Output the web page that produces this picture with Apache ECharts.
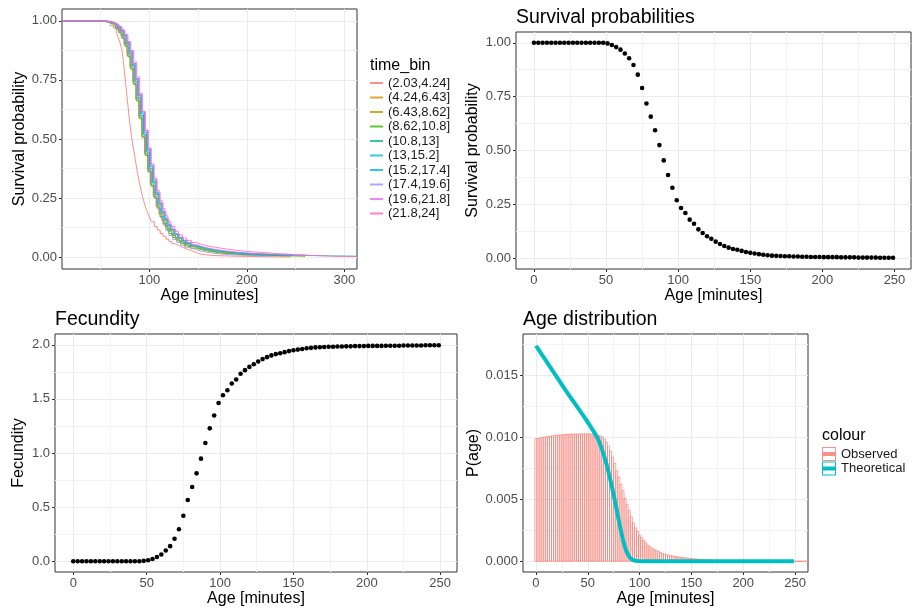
<!DOCTYPE html>
<html><head><meta charset="utf-8">
<script src="https://cdn.jsdelivr.net/npm/echarts@6/dist/echarts.min.js"></script>
<style>html,body{margin:0;padding:0;background:#fff}#c{width:919px;height:609px}</style>
</head><body><div id="c"></div>
<script>
// ---------------- DATA ----------------
const binLabels = ['(2.03,4.24]','(4.24,6.43]','(6.43,8.62]','(8.62,10.8]','(10.8,13]','(13,15.2]','(15.2,17.4]','(17.4,19.6]','(19.6,21.8]','(21.8,24]'];
const binColors = ['rgba(248,118,109,0.8)','rgba(216,144,0,0.8)','rgba(163,165,0,0.8)','rgba(57,182,0,0.8)','rgba(0,191,125,0.8)','rgba(0,191,196,0.8)','rgba(0,176,246,0.8)','rgba(149,144,255,0.8)','rgba(231,107,243,0.8)','rgba(255,98,188,0.8)'];

const kmBin1 = [[10,1],[50,1],[54,0.995],[57,0.99],[60,0.98],[63,0.97],[66,0.95],[68,0.93],[70,0.905],[72,0.87],[74,0.8],[76,0.72],[78,0.64],[80,0.56],[82,0.5],[84,0.45],[86,0.4],[88,0.35],[90,0.31],[92,0.27],[94,0.24],[96,0.21],[98,0.19],[100,0.17],[102,0.15],[105,0.13],[108,0.115],[111,0.1],[114,0.088],[117,0.076],[120,0.066],[123,0.057],[126,0.05],[130,0.042],[134,0.035],[138,0.028],[143,0.02],[148,0.012],[153,0.007],[165,0.004],[190,0.002],[220,0.001],[245,0.001]];
const kmBin2 = [[10,1],[44,1],[50,0.998],[55,0.995],[58,0.99],[62,0.983],[65,0.972],[68,0.958],[71,0.937],[74,0.905],[77,0.862],[80,0.81],[83,0.745],[86,0.672],[89,0.6],[92,0.52],[95,0.445],[98,0.372],[101,0.315],[104,0.262],[107,0.22],[110,0.186],[113,0.156],[116,0.132],[119,0.112],[123,0.092],[127,0.077],[131,0.065],[135,0.055],[140,0.046],[145,0.038],[151,0.031],[158,0.025],[166,0.02],[175,0.016],[185,0.012],[197,0.009],[211,0.007],[230,0.005]];
const kmBin3 = [[10,1],[46,1],[51,0.997],[55,0.993],[59,0.988],[62,0.98],[65,0.968],[68,0.952],[71,0.93],[74,0.897],[77,0.852],[80,0.8],[83,0.735],[86,0.665],[89,0.59],[92,0.51],[95,0.435],[98,0.365],[101,0.305],[104,0.257],[107,0.215],[110,0.182],[113,0.153],[116,0.13],[119,0.11],[123,0.09],[127,0.076],[131,0.064],[136,0.053],[141,0.044],[147,0.036],[153,0.029],[160,0.023],[168,0.018],[178,0.014],[190,0.011],[205,0.008],[222,0.006],[240,0.004]];
const kmBin4 = [[10,1],[47,1],[52,0.996],[56,0.992],[60,0.986],[63,0.978],[66,0.966],[69,0.948],[72,0.925],[75,0.892],[78,0.848],[81,0.795],[84,0.73],[87,0.66],[90,0.585],[93,0.505],[96,0.43],[99,0.36],[102,0.3],[105,0.25],[108,0.208],[111,0.172],[114,0.143],[117,0.12],[120,0.1],[124,0.083],[128,0.069],[132,0.057],[137,0.047],[142,0.038],[148,0.03],[155,0.024],[163,0.018],[172,0.014],[183,0.011],[196,0.008],[212,0.006],[235,0.004],[260,0.003]];
const kmBin5 = [[10,1],[48,1],[53,0.998],[57,0.995],[61,0.99],[64,0.984],[67,0.974],[70,0.958],[73,0.937],[76,0.905],[79,0.864],[82,0.81],[85,0.745],[88,0.675],[91,0.6],[94,0.52],[97,0.445],[100,0.375],[103,0.315],[106,0.265],[109,0.222],[112,0.188],[115,0.158],[118,0.134],[121,0.114],[125,0.095],[129,0.081],[133,0.07],[137,0.06],[142,0.05],[147,0.042],[153,0.035],[160,0.029],[168,0.024],[177,0.02],[187,0.016],[199,0.013],[213,0.01],[229,0.008],[247,0.006]];
const kmBin6 = [[10,1],[49,1],[54,0.998],[58,0.995],[62,0.99],[65,0.985],[68,0.976],[71,0.962],[74,0.942],[77,0.912],[80,0.872],[83,0.82],[86,0.755],[89,0.685],[92,0.61],[95,0.53],[98,0.455],[101,0.385],[104,0.322],[107,0.27],[110,0.226],[113,0.19],[116,0.16],[119,0.136],[122,0.117],[126,0.097],[130,0.083],[134,0.071],[138,0.061],[143,0.051],[148,0.043],[154,0.036],[161,0.03],[169,0.025],[178,0.02],[188,0.016],[200,0.013],[214,0.01],[230,0.008],[248,0.006],[280,0.004],[313,0.004]];
const kmBin7 = [[10,1],[48,1],[53,0.997],[57,0.994],[61,0.989],[64,0.983],[67,0.973],[70,0.958],[73,0.938],[76,0.908],[79,0.868],[82,0.815],[85,0.752],[88,0.682],[91,0.607],[94,0.527],[97,0.452],[100,0.382],[103,0.322],[106,0.272],[109,0.23],[112,0.195],[115,0.165],[118,0.14],[121,0.12],[125,0.1],[129,0.082],[133,0.068],[137,0.058],[142,0.048],[147,0.04],[153,0.033],[160,0.027],[168,0.022],[177,0.018],[187,0.015],[199,0.012],[213,0.01],[228,0.008],[248,0.007]];
const kmBin8 = [[10,1],[47,1],[52,0.997],[56,0.994],[60,0.988],[63,0.981],[66,0.97],[69,0.954],[72,0.932],[75,0.9],[78,0.858],[81,0.806],[84,0.742],[87,0.672],[90,0.597],[93,0.517],[96,0.44],[99,0.368],[102,0.305],[105,0.25],[108,0.205],[111,0.167],[114,0.137],[117,0.112],[120,0.092],[124,0.075],[128,0.062],[132,0.051],[136,0.042],[141,0.034],[146,0.027],[152,0.021],[159,0.016],[167,0.012],[177,0.009],[190,0.007],[205,0.005],[225,0.003]];
const kmBin9 = [[10,1],[50,1],[55,0.998],[59,0.995],[63,0.99],[66,0.984],[69,0.975],[72,0.96],[75,0.94],[78,0.912],[81,0.875],[84,0.825],[87,0.762],[90,0.692],[93,0.617],[96,0.537],[99,0.46],[102,0.39],[105,0.328],[108,0.275],[111,0.23],[114,0.193],[117,0.162],[120,0.137],[123,0.117],[127,0.097],[131,0.082],[135,0.071],[139,0.062],[144,0.052],[149,0.044],[155,0.037],[162,0.031],[170,0.026],[180,0.021],[191,0.017],[204,0.014],[219,0.011],[236,0.008],[260,0.006]];
const kmBin10 = [[10,1],[49,1],[54,0.997],[58,0.993],[62,0.987],[65,0.98],[68,0.97],[71,0.955],[74,0.935],[77,0.906],[80,0.868],[83,0.818],[86,0.756],[89,0.688],[92,0.615],[95,0.537],[98,0.462],[101,0.394],[104,0.335],[107,0.284],[110,0.241],[113,0.205],[116,0.175],[119,0.15],[122,0.13],[126,0.11],[130,0.094],[134,0.081],[138,0.071],[143,0.062],[148,0.054],[154,0.047],[160,0.042],[167,0.037],[175,0.032],[184,0.027],[194,0.023],[205,0.019],[218,0.015],[232,0.011],[250,0.007],[270,0.004],[290,0.003],[313,0.003]];

const ages = [0,3,6,9,12,15,18,21,24,27,30,33,36,39,42,45,48,51,54,57,60,63,66,69,72,75,78,81,84,87,90,93,96,99,102,105,108,111,114,117,120,123,126,129,132,135,138,141,144,147,150,153,156,159,162,165,168,171,174,177,180,183,186,189,192,195,198,201,204,207,210,213,216,219,222,225,228,231,234,237,240,243,246,249];
const survival = [1,1,1,1,1,1,1,1,1,1,1,1,1,1,1,1,1,0.997,0.99,0.98,0.968,0.95,0.928,0.897,0.852,0.79,0.718,0.657,0.594,0.525,0.454,0.386,0.327,0.269,0.233,0.21,0.179,0.16,0.134,0.117,0.102,0.09,0.077,0.066,0.057,0.049,0.043,0.039,0.034,0.029,0.025,0.022,0.019,0.016,0.014,0.012,0.011,0.01,0.009,0.009,0.008,0.008,0.007,0.007,0.006,0.006,0.006,0.005,0.005,0.005,0.005,0.004,0.004,0.004,0.004,0.003,0.003,0.003,0.003,0.003,0.002,0.002,0.002,0.002];
const fecundity = [0,0,0,0,0,0,0,0,0,0,0,0,0,0,0,0,0.003,0.008,0.02,0.038,0.062,0.099,0.139,0.207,0.295,0.42,0.565,0.686,0.812,0.948,1.092,1.228,1.346,1.462,1.534,1.58,1.642,1.68,1.732,1.766,1.796,1.82,1.846,1.868,1.886,1.902,1.914,1.922,1.932,1.942,1.95,1.956,1.962,1.968,1.972,1.976,1.978,1.98,1.982,1.982,1.984,1.984,1.986,1.986,1.988,1.988,1.988,1.99,1.99,1.99,1.99,1.992,1.992,1.992,1.992,1.994,1.994,1.994,1.994,1.994,1.996,1.996,1.996,1.996];
const theoretical = [0.0174,0.01702,0.01664,0.01628,0.0159,0.01552,0.01514,0.01476,0.01438,0.014,0.01364,0.01328,0.01292,0.01256,0.0122,0.01184,0.01148,0.0111,0.0107,0.0103,0.00985,0.0092,0.00845,0.00755,0.0065,0.00535,0.0041,0.00285,0.0017,0.00085,0.00035,0.00012,0.00004,0.00001,0,0,0,0,0,0,0,0,0,0,0,0,0,0,0,0,0,0,0,0,0,0,0,0,0,0,0,0,0,0,0,0,0,0,0,0,0,0,0,0,0,0,0,0,0,0,0,0,0,0];

const histBinWidth = 2;
const histCenters = [0,2,4,6,8,10,12,14,16,18,20,22,24,26,28,30,32,34,36,38,40,42,44,46,48,50,52,54,56,58,60,62,64,66,68,70,72,74,76,78,80,82,84,86,88,90,92,94,96,98,100,102,104,106,108,110,112,114,116,118,120,122,124,126,128,130,132,134,136,138,140,142,144,146,148,150,152,154,156,158,160,162,164,166,168,170,172,174,176,178,180,182,184,186,188,190,192,194,196,198,200,202,204,206,208,210,212,214,216,218,220,222,224,226,228,230,232,234,236,238,240,242,244,246,248,250,252,254,256,258,260,262];
const histHeights = [0.00988,0.00992,0.00996,0.00999,0.01002,0.01005,0.01008,0.0101,0.01013,0.01015,0.01017,0.01019,0.0102,0.01022,0.01023,0.01024,0.01025,0.01026,0.01027,0.01027,0.01028,0.01028,0.01028,0.01029,0.01029,0.01029,0.01028,0.01027,0.01025,0.01022,0.01018,0.01012,0.01003,0.00988,0.00962,0.0093,0.0089,0.0084,0.0079,0.0073,0.0068,0.0062,0.0057,0.0051,0.0046,0.0041,0.0036,0.0031,0.0027,0.0024,0.0021,0.0019,0.00168,0.0015,0.0013,0.00118,0.00105,0.00096,0.00087,0.00079,0.00071,0.00064,0.00058,0.00052,0.00048,0.00045,0.00042,0.00039,0.00036,0.00034,0.00031,0.00029,0.00027,0.00025,0.00023,0.00021,0.0002,0.00018,0.00017,0.00015,0.00014,0.00013,0.00012,0.00011,0.0001,0.00009,0.00008,0.00007,0.00006,0.00006,0.00005,0.00005,0.00004,0.00004,0.00003,0.00003,0.00002,0.00002,0.00002,0.00002,0.00001,0.00001,0.00001,0.00001,0.00001,0.00001,0.00001,0.00001,0.00001,0.00001,0.00001,0,0,0,0,0,0,0,0,0,0,0,0,0,0,0,0,0,0,0,0,0];

// tick values
const ticksKmX = [100,200,300], minorKmX = [50,150,250];
const ticksAgeX = [0,50,100,150,200,250], minorAgeX = [25,75,125,175,225];
const ticksSurvY = [0,0.25,0.5,0.75,1], minorSurvY = [0.125,0.375,0.625,0.875];
const ticksFecY = [0,0.5,1,1.5,2], minorFecY = [0.25,0.75,1.25,1.75];
const ticksPY = [0,0.005,0.01,0.015], minorPY = [0.0025,0.0075,0.0125,0.0175];

// ---------------- CHART ----------------
const FONT = '"Liberation Sans", Arial, Helvetica, sans-serif';
const chart = echarts.init(document.getElementById('c'), null, {renderer: 'canvas'});

function mainAxis(dim, gridIndex, min, max, ticks, fmt, name, nameGap) {
  return {
    type: 'value', gridIndex, min, max, position: dim === 'x' ? 'bottom' : 'left',
    name, nameLocation: 'middle', nameGap,
    nameTextStyle: {fontFamily: FONT, fontSize: 16, color: '#000'},
    axisLine: {show: false, onZero: false},
    axisTick: {show: true, customValues: ticks, length: 3, lineStyle: {color: '#333', width: 1}},
    axisLabel: {customValues: ticks, margin: 5, fontFamily: FONT, fontSize: 13, color: '#4D4D4D', formatter: fmt},
    splitLine: {show: true, lineStyle: {color: '#EBEBEB', width: 1}}
  };
}
function minorAxis(dim, gridIndex, min, max, vals) {
  return {
    type: 'value', gridIndex, min, max, position: dim === 'x' ? 'top' : 'right',
    axisLine: {show: false, onZero: false},
    axisTick: {show: false, customValues: vals},
    axisLabel: {show: false, customValues: vals},
    splitLine: {show: true, lineStyle: {color: '#F3F3F3', width: 1}}
  };
}
const f0 = v => String(v);
const f1 = v => v.toFixed(1);
const f2 = v => v.toFixed(2);
const f3 = v => v.toFixed(3);

const gridStyle = {show: true, borderColor: '#333333', borderWidth: 1, backgroundColor: '#fff', containLabel: false};

const boxIcon = 'path://M0,0H14V14H0Z M1,1V13H13V1Z M1,5H13V9H1Z';

const kmSets = [kmBin1, kmBin2, kmBin3, kmBin4, kmBin5, kmBin6, kmBin7, kmBin8, kmBin9, kmBin10];
const kmSeries = kmSets.map((d, i) => ({
  type: 'line', name: binLabels[i], xAxisIndex: 0, yAxisIndex: 0,
  data: d, step: 'end', symbol: 'none', color: binColors[i],
  lineStyle: {width: 1, color: binColors[i]}, z: 3 + i, animation: false
}));

const histData = histCenters.map((c, i) => [c - histBinWidth / 2, c + histBinWidth / 2, histHeights[i]]);
const HIST_STROKE = 'rgba(248,118,109,0.7)';

const TITLE_STYLE = {fontFamily: FONT, fontSize: 19.5, fontWeight: 'normal', color: '#000'};
const option = {
  animation: false,
  backgroundColor: '#fff',
  textStyle: {fontFamily: FONT},
  title: [
    {text: 'Survival probabilities', left: 516, top: 8, padding: 0, textStyle: TITLE_STYLE},
    {text: 'Fecundity', left: 55, top: 310, padding: 0, textStyle: TITLE_STYLE},
    {text: 'Age distribution', left: 523, top: 310, padding: 0, textStyle: TITLE_STYLE},
    {text: 'time_bin', left: 370, top: 58, padding: 0, textStyle: {fontFamily: FONT, fontSize: 16, fontWeight: 'normal', color: '#000'}},
    {text: 'colour', left: 822, top: 428, padding: 0, textStyle: {fontFamily: FONT, fontSize: 16, fontWeight: 'normal', color: '#000'}}
  ],
  legend: [
    {data: binLabels, orient: 'vertical', left: 370, top: 76, padding: 0, itemWidth: 13, itemHeight: 2, itemGap: 0.5,
     icon: 'rect', textStyle: {fontFamily: FONT, fontSize: 13, color: '#1A1A1A', lineHeight: 14}, selectedMode: false},
    {data: [{name: 'Observed', icon: boxIcon}, {name: 'Theoretical', icon: boxIcon}], orient: 'vertical', left: 822, top: 447, padding: 0,
     itemWidth: 14, itemHeight: 14, itemGap: 0.5, textStyle: {fontFamily: FONT, fontSize: 13, color: '#1A1A1A'}, selectedMode: false}
  ],
  grid: [
    Object.assign({left: 62, top: 9, width: 295, height: 260}, gridStyle),
    Object.assign({left: 516, top: 32, width: 395, height: 237}, gridStyle),
    Object.assign({left: 55, top: 334, width: 402, height: 238}, gridStyle),
    Object.assign({left: 523, top: 334, width: 285, height: 238}, gridStyle)
  ],
  xAxis: [
    mainAxis('x', 0, 10.3, 313, ticksKmX, f0, 'Age [minutes]', 17),
    minorAxis('x', 0, 10.3, 313, minorKmX),
    mainAxis('x', 1, -12.45, 261.45, ticksAgeX, f0, 'Age [minutes]', 17),
    minorAxis('x', 1, -12.45, 261.45, minorAgeX),
    mainAxis('x', 2, -12.45, 261.45, ticksAgeX, f0, 'Age [minutes]', 16),
    minorAxis('x', 2, -12.45, 261.45, minorAgeX),
    mainAxis('x', 3, -12.5, 262.5, ticksAgeX, f0, 'Age [minutes]', 16),
    minorAxis('x', 3, -12.5, 262.5, minorAgeX)
  ],
  yAxis: [
    mainAxis('y', 0, -0.05, 1.05, ticksSurvY, f2, 'Survival probability', 34),
    minorAxis('y', 0, -0.05, 1.05, minorSurvY),
    mainAxis('y', 1, -0.05, 1.05, ticksSurvY, f2, 'Survival probability', 35),
    minorAxis('y', 1, -0.05, 1.05, minorSurvY),
    mainAxis('y', 2, -0.1, 2.1, ticksFecY, f1, 'Fecundity', 28),
    minorAxis('y', 2, -0.1, 2.1, minorFecY),
    mainAxis('y', 3, -0.00087, 0.01835, ticksPY, f3, 'P(age)', 41),
    minorAxis('y', 3, -0.00087, 0.01835, minorPY)
  ],
  series: kmSeries.concat([
    {type: 'scatter', name: 'Survival', xAxisIndex: 2, yAxisIndex: 2, symbolSize: 4.6,
     itemStyle: {color: '#000', opacity: 1}, data: ages.map((a, i) => [a, survival[i]])},
    {type: 'scatter', name: 'Fecundity', xAxisIndex: 4, yAxisIndex: 4, symbolSize: 4.6,
     itemStyle: {color: '#000', opacity: 1}, data: ages.map((a, i) => [a, fecundity[i]])},
    {type: 'custom', name: 'Observed', xAxisIndex: 6, yAxisIndex: 6, color: 'rgba(248,118,109,0.8)', clip: true,
     encode: {x: [0, 1], y: 2},
     data: histData,
     renderItem: function (params, api) {
       const p0 = api.coord([api.value(0), api.value(2)]);
       const p1 = api.coord([api.value(1), 0]);
       return {type: 'polyline', silent: true,
               shape: {points: [[p0[0], p1[1]], [p0[0], p0[1]], [p1[0], p0[1]], [p1[0], p1[1]], [p0[0], p1[1]]]},
               style: {fill: null, stroke: HIST_STROKE, lineWidth: 0.9}};
     }, z: 3},
    {type: 'line', name: 'Theoretical', xAxisIndex: 6, yAxisIndex: 6, symbol: 'none', color: '#00BFC4',
     lineStyle: {width: 4, color: '#00BFC4'}, data: ages.map((a, i) => [a, theoretical[i]]), z: 5}
  ])
};
chart.setOption(option);
</script>
</body></html>
